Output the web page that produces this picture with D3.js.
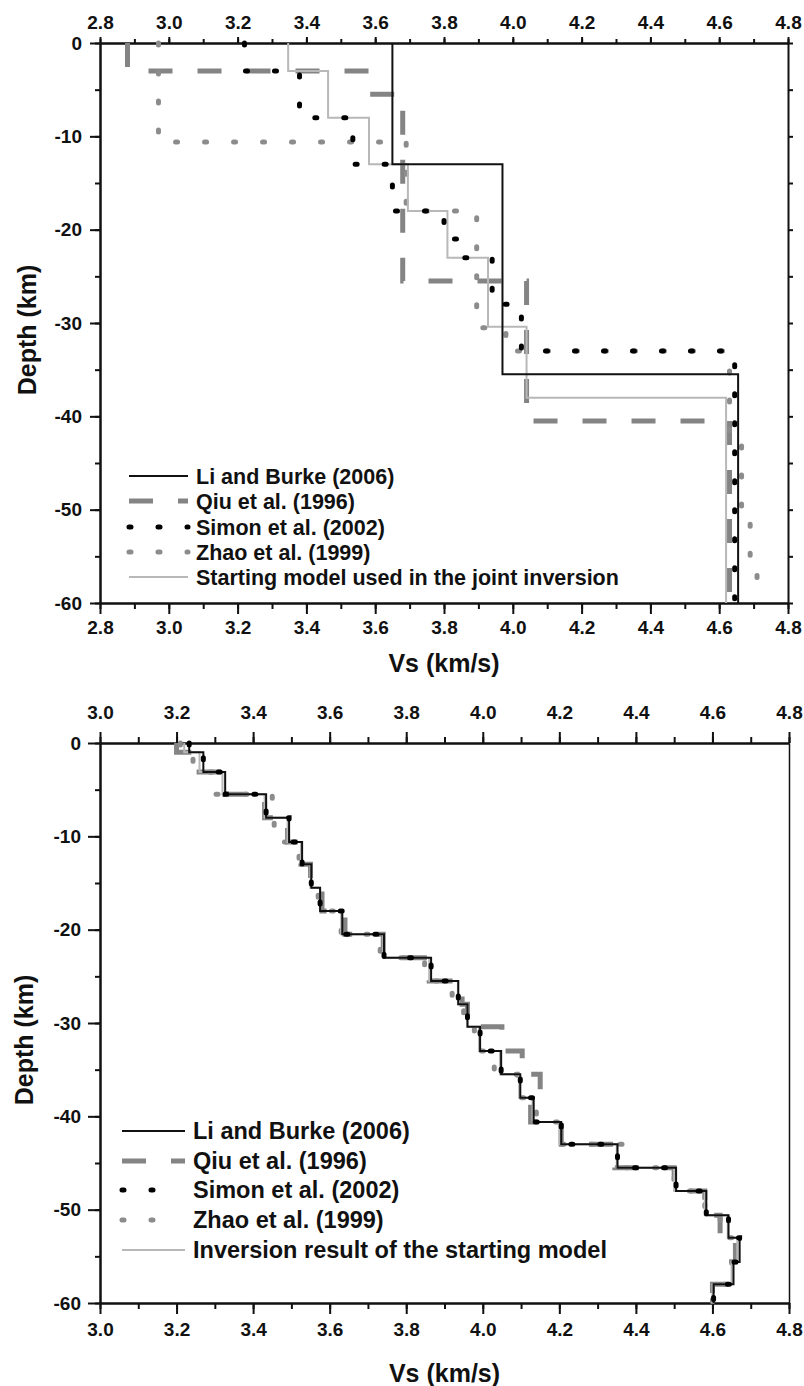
<!DOCTYPE html>
<meta charset="utf-8">
<style>

body {
  margin: 0;
  background: #fff;
}

text {
  font-family: "Liberation Sans", Arial, sans-serif;
  font-weight: bold;
  fill: #111;
}

.axis path, .axis line {
  stroke: #111;
  stroke-width: 2px;
}

.axis text {
  font-size: 19px;
}

.title {
  font-size: 25px;
}

.li { fill: none; stroke: #111; stroke-width: 2px; }
.qiu { fill: none; stroke: #848484; stroke-width: 5px; stroke-dasharray: 24 25; }
.simon { fill: none; stroke: #000; stroke-width: 5px; stroke-dasharray: 2 27; stroke-linecap: round; }
.zhao { fill: none; stroke: #8c8c8c; stroke-width: 5px; stroke-dasharray: 2 27; stroke-linecap: round; }
.start { fill: none; stroke: #b8b8b8; stroke-width: 2px; }

</style>
<body>
<script src="https://d3js.org/d3.v7.min.js"></script>
<script>

// ---- top panel: published crustal models (layer boundaries in km, Vs in km/s)
var liTopDepth = [0, 13, 35.5, 60],
    liTopVs = [3.65, 3.97, 4.655];
var qiuTopDepth = [0, 3, 5.5, 25.5, 40.5, 60],
    qiuTopVs = [2.88, 3.585, 3.68, 4.04, 4.63];
var simonTopDepth = [0, 3, 8, 13, 18, 21, 23, 28, 33, 60],
    simonTopVs = [3.22, 3.38, 3.535, 3.65, 3.80, 3.86, 3.94, 4.025, 4.645];
var zhaoTopDepth = [0, 10.6, 18, 30.5, 33, 43, 50, 57, 60],
    zhaoTopVs = [2.97, 3.69, 3.895, 3.98, 4.63, 4.665, 4.69, 4.71];
var startTopDepth = [0, 3, 8, 13, 18, 23, 30.4, 38, 60],
    startTopVs = [3.347, 3.463, 3.582, 3.695, 3.81, 3.928, 4.04, 4.62];

// ---- bottom panel: inversion results, all on the same layering
var botDepth = [0, 1, 3.1, 5.5, 8, 10.6, 13, 15.5, 18, 20.5, 23, 25.5, 28, 30.4, 33, 35.5, 38, 40.6, 43, 45.5, 48, 50.6, 53, 55.6, 58, 60];
var liBotVs    = [3.233, 3.27, 3.327, 3.434, 3.494, 3.528, 3.552, 3.575, 3.633, 3.742, 3.865, 3.936, 3.96, 3.993, 4.048, 4.098, 4.133, 4.205, 4.352, 4.505, 4.584, 4.642, 4.671, 4.655, 4.603];
var qiuBotVs   = [3.20, 3.25, 3.33, 3.43, 3.49, 3.525, 3.55, 3.58, 3.64, 3.74, 3.86, 3.946, 3.96, 4.05, 4.103, 4.15, 4.125, 4.205, 4.345, 4.50, 4.58, 4.62, 4.66, 4.65, 4.60];
var simonBotVs = [3.233, 3.27, 3.327, 3.434, 3.494, 3.528, 3.552, 3.575, 3.633, 3.742, 3.865, 3.936, 3.96, 3.993, 4.048, 4.098, 4.133, 4.205, 4.352, 4.505, 4.584, 4.642, 4.671, 4.655, 4.603];
var zhaoBotVs  = [3.21, 3.243, 3.29, 3.45, 3.455, 3.52, 3.55, 3.57, 3.63, 3.732, 3.848, 3.92, 3.95, 3.978, 4.03, 4.09, 4.14, 4.20, 4.37, 4.50, 4.58, 4.62, 4.655, 4.65, 4.60];
var startBotVs = [3.22, 3.26, 3.32, 3.43, 3.49, 3.525, 3.55, 3.575, 3.63, 3.74, 3.86, 3.935, 3.96, 3.99, 4.045, 4.095, 4.13, 4.20, 4.35, 4.50, 4.58, 4.64, 4.665, 4.65, 4.60];

var topTicks = [2.8, 3.0, 3.2, 3.4, 3.6, 3.8, 4.0, 4.2, 4.4, 4.6, 4.8],
    botTicks = [3.0, 3.2, 3.4, 3.6, 3.8, 4.0, 4.2, 4.4, 4.6, 4.8],
    depthTicks = [0, -10, -20, -30, -40, -50, -60];

var topLegend = ["Li and Burke (2006)", "Qiu et al. (1996)", "Simon et al. (2002)", "Zhao et al. (1999)", "Starting model used in the joint inversion"],
    botLegend = ["Li and Burke (2006)", "Qiu et al. (1996)", "Simon et al. (2002)", "Zhao et al. (1999)", "Inversion result of the starting model"];
var seriesClass = ["li", "qiu", "simon", "zhao", "start"];

var width = 804,
    height = 1386;

var svg = d3.select("body").append("svg")
    .attr("width", width)
    .attr("height", height);

svg.append("rect").attr("width", width).attr("height", height).attr("fill", "#fff");

// layer model -> step path vertices
function steps(depth, vs) {
  var pts = [];
  vs.forEach(function(v, i) {
    pts.push([v, -depth[i]]);
    pts.push([v, -depth[i + 1]]);
  });
  return pts;
}

var fmt = d3.format(".1f");

function drawPanel(p) {
  var x = d3.scaleLinear().domain(p.xDomain).range([100, p.right]),
      y = d3.scaleLinear().domain([0, -60]).range([p.top, p.top + 560]);

  var g = svg.append("g");

  var minor = d3.range(p.xDomain[0], p.xDomain[1] + 0.001, 0.1),
      minorY = d3.range(0, -60.1, -5);

  // axes: minor ticks first, then majors with labels
  g.append("g").attr("class", "axis").attr("transform", "translate(0," + y(0) + ")")
      .call(d3.axisTop(x).tickValues(minor).tickSize(p.tk.topMinor).tickSizeOuter(0).tickFormat(""));
  g.append("g").attr("class", "axis").attr("transform", "translate(0," + y(0) + ")")
      .call(d3.axisTop(x).tickValues(p.ticks).tickSize(p.tk.top).tickPadding(p.tk.topPad).tickSizeOuter(0).tickFormat(fmt));

  g.append("g").attr("class", "axis").attr("transform", "translate(0," + y(-60) + ")")
      .call(d3.axisBottom(x).tickValues(minor).tickSize(p.tk.botMinor).tickSizeOuter(0).tickFormat(""));
  g.append("g").attr("class", "axis").attr("transform", "translate(0," + y(-60) + ")")
      .call(d3.axisBottom(x).tickValues(p.ticks).tickSize(p.tk.bot).tickPadding(p.tk.botPad).tickSizeOuter(0).tickFormat(fmt));

  g.append("g").attr("class", "axis").attr("transform", "translate(100,0)")
      .call(d3.axisLeft(y).tickValues(minorY).tickSize(p.tk.leftMinor).tickSizeOuter(0).tickFormat(""));
  g.append("g").attr("class", "axis").attr("transform", "translate(100,0)")
      .call(d3.axisLeft(y).tickValues(depthTicks).tickSize(p.tk.left).tickPadding(p.tk.leftPad).tickSizeOuter(0).tickFormat(function(d) { return String(d); }));

  var right = g.append("g").attr("class", "axis").attr("transform", "translate(" + p.right + ",0)")
      .call(d3.axisRight(y).tickValues(p.rightTicks ? minorY : []).tickSize(5).tickSizeOuter(0).tickFormat(""));
  if (!p.rightTicks) right.select("path").style("stroke-width", "1.5px");

  var line = d3.line().x(function(d) { return x(d[0]); }).y(function(d) { return y(d[1]); });

  // draw order: grey ones underneath, black on top
  [1, 3, 4, 0, 2].forEach(function(i) {
    g.append("path")
        .datum(steps(p.series[i][0], p.series[i][1]))
        .attr("class", seriesClass[i])
        .attr("d", line);
  });

  // legend
  var lg = g.append("g").attr("class", "legend");
  p.legend.forEach(function(label, i) {
    var yy = p.legendY[i];
    lg.append("line")
        .attr("class", seriesClass[i])
        .attr("x1", p.legendX[0]).attr("x2", p.legendEnd[i])
        .attr("y1", yy).attr("y2", yy);
    lg.append("text")
        .attr("x", p.legendX[1]).attr("y", yy).attr("dy", "0.36em")
        .style("font-size", p.legendSize + "px")
        .text(label);
  });

  // titles
  g.append("text").attr("class", "title")
      .attr("text-anchor", "middle")
      .attr("x", (100 + p.right) / 2).attr("y", p.xTitleY)
      .text("Vs (km/s)");
  g.append("text").attr("class", "title")
      .attr("text-anchor", "middle")
      .attr("transform", "translate(" + p.yTitle[0] + "," + p.yTitle[1] + ") rotate(-90)")
      .text("Depth (km)");
}

drawPanel({
  xDomain: [2.8, 4.8], right: 788, top: 43, ticks: topTicks,
  tk: {top: 6, topMinor: 4, topPad: 8, bot: 11, botMinor: 6, botPad: 7, left: 10, leftMinor: 5, leftPad: 8},
  rightTicks: true,
  series: [[liTopDepth, liTopVs], [qiuTopDepth, qiuTopVs], [simonTopDepth, simonTopVs], [zhaoTopDepth, zhaoTopVs], [startTopDepth, startTopVs]],
  legend: topLegend, legendY: [476, 501, 527, 552, 577], legendX: [129, 196],
  legendEnd: [188, 188, 188, 188, 188], legendSize: 21.5,
  xTitleY: 672, yTitle: [36, 330]
});

drawPanel({
  xDomain: [3.0, 4.8], right: 789, top: 743, ticks: botTicks,
  tk: {top: 11, topMinor: 6, topPad: 13, bot: 11, botMinor: 6, botPad: 9, left: 12, leftMinor: 5, leftPad: 7},
  rightTicks: false,
  series: [[botDepth, liBotVs], [botDepth, qiuBotVs], [botDepth, simonBotVs], [botDepth, zhaoBotVs], [botDepth, startBotVs]],
  legend: botLegend, legendY: [1131, 1161, 1190, 1220, 1250], legendX: [122, 193],
  legendEnd: [185, 185, 160, 160, 185], legendSize: 23.5,
  xTitleY: 1382, yTitle: [33, 1040]
});

</script>
